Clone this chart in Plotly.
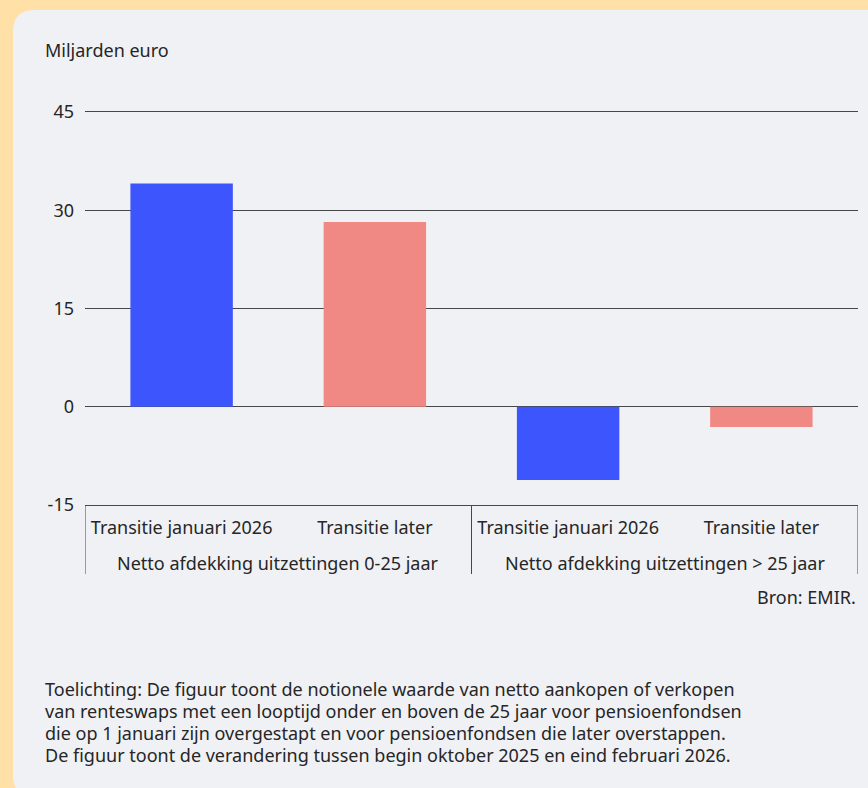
import plotly.graph_objects as go

# ---- data ----
groups = ["Netto afdekking uitzettingen 0-25 jaar", "Netto afdekking uitzettingen 0-25 jaar",
          "Netto afdekking uitzettingen > 25 jaar", "Netto afdekking uitzettingen > 25 jaar"]
subcats = ["Transitie januari 2026", "Transitie later", "Transitie januari 2026", "Transitie later"]
values = [34.1, 28.2, -11.2, -3.1]
y_tickvals = [-15, 0, 15, 30, 45]
y_ticktext = ["-15", "0", "15", "30", "45"]

y_title = "Miljarden euro"
source = "Bron: EMIR."
note_lines = [
    "Toelichting: De figuur toont de notionele waarde van netto aankopen of verkopen",
    "van renteswaps met een looptijd onder en boven de 25 jaar voor pensioenfondsen",
    "die op 1 januari zijn overgestapt en voor pensioenfondsen die later overstappen.",
    "De figuur toont de verandering tussen begin oktober 2025 en eind februari 2026.",
]

# ---- styles ----
color_map = {"Transitie januari 2026": "#3D55FC", "Transitie later": "#F08883"}
W, H = 868, 788
L, R, T, B = 85, 858, 112, 505
FONT = "Noto Sans"
FS = 18
TXT = "#262626"
LINE = "#474747"

def xp(px):
    return (px - L) / (R - L)

def yp(py):
    return (B - py) / (B - T)

xpos = list(range(len(values)))

fig = go.Figure()
fig.add_trace(go.Bar(
    x=xpos,
    y=values,
    marker=dict(color=[color_map[s] for s in subcats], line=dict(width=0)),
    width=0.53,
    customdata=[f"{g} – {s}" for g, s in zip(groups, subcats)],
    hovertemplate="%{customdata}: %{y}<extra></extra>",
))

# rounded panel
x0, y0, x1, y1, r = 13, 10, 900, 797, 22
path = (f"M {xp(x0)},{yp(y0 + r)} Q {xp(x0)},{yp(y0)} {xp(x0 + r)},{yp(y0)} "
        f"L {xp(x1)},{yp(y0)} L {xp(x1)},{yp(y1)} L {xp(x0 + r)},{yp(y1)} "
        f"Q {xp(x0)},{yp(y1)} {xp(x0)},{yp(y1 - r)} Z")
shapes = [dict(type="path", path=path, xref="paper", yref="paper",
               fillcolor="#F0F1F5", line=dict(width=0), layer="below")]

annotations = [
    dict(text=y_title, x=xp(43), y=yp(50), xref="paper", yref="paper",
         xanchor="left", yanchor="middle", showarrow=False,
         font=dict(family=FONT, size=FS, color=TXT)),
    dict(text=source, x=xp(858), y=yp(597), xref="paper", yref="paper",
         xanchor="right", yanchor="middle", showarrow=False,
         font=dict(family=FONT, size=FS, color=TXT)),
]
for i, line in enumerate(note_lines):
    annotations.append(dict(text=line, x=xp(43), y=yp(689 + 22 * i), xref="paper", yref="paper",
                            xanchor="left", yanchor="middle", align="left", showarrow=False,
                            font=dict(family=FONT, size=FS, color=TXT)))

# group labels and dividers
unique_groups = list(dict.fromkeys(groups))
bounds = [-0.5]
for g in unique_groups:
    idx = [i for i, gg in enumerate(groups) if gg == g]
    annotations.append(dict(text=g, x=sum(idx) / len(idx), xref="x",
                            y=yp(563), yref="paper", xanchor="center", yanchor="middle",
                            showarrow=False, font=dict(family=FONT, size=FS, color=TXT)))
    bounds.append(max(idx) + 0.5)
for bx in bounds:
    shapes.append(dict(type="line", x0=bx, x1=bx, xref="x", y0=yp(505), y1=yp(574),
                       yref="paper", line=dict(color=LINE, width=1)))

fig.update_layout(
    width=W, height=H,
    margin=dict(l=L, r=W - R, t=T, b=H - B, pad=0),
    paper_bgcolor="#FFE1A7",
    plot_bgcolor="rgba(0,0,0,0)",
    showlegend=False,
    shapes=shapes,
    annotations=annotations,
    font=dict(family=FONT, size=FS, color=TXT),
)
fig.update_yaxes(
    range=[-15, 45], tickvals=y_tickvals, ticktext=y_ticktext,
    showgrid=True, gridcolor=LINE, gridwidth=1,
    zeroline=True, zerolinecolor=LINE, zerolinewidth=1,
    showline=False, ticks="", ticklabelstandoff=10,
    tickfont=dict(family=FONT, size=FS, color=TXT),
)
fig.update_xaxes(
    range=[-0.5, len(values) - 0.5],
    tickvals=xpos, ticktext=subcats,
    showgrid=False, showline=True, mirror=True, linecolor=LINE, linewidth=1,
    ticks="", ticklabelstandoff=6,
    tickfont=dict(family=FONT, size=FS, color=TXT),
)

fig.write_html("out.html")
